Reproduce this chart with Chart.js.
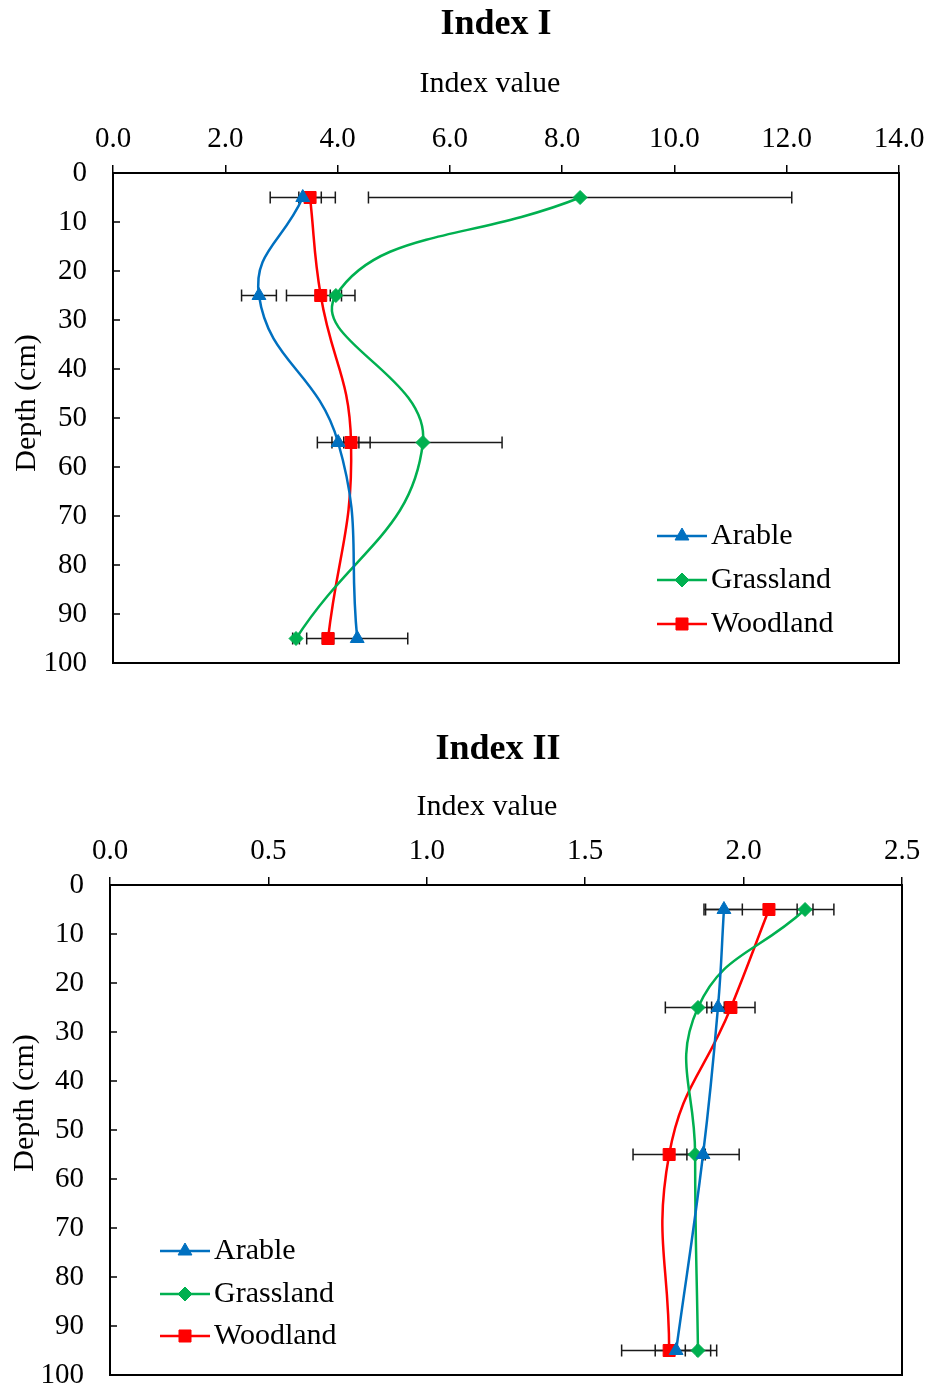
<!DOCTYPE html>
<html>
<head>
<meta charset="utf-8">
<script src="https://cdn.jsdelivr.net/npm/chart.js@4.4.0/dist/chart.umd.min.js"></script>
<style>
  html, body { margin: 0; padding: 0; background: #fff; overflow: hidden; width: 929px; height: 1386px; }
  canvas { position: absolute; left: 0; }
  #chart1 { top: 0; }
  #chart2 { top: 700px; }
</style>
</head>
<body>
<!-- les canvas dépassent un peu à droite/en bas : la page les coupe -->
<canvas id="chart1" width="939" height="713"></canvas>
<canvas id="chart2" width="942" height="725"></canvas>
<script>
// profondeurs (cm) et séries
const depths = [5, 25, 55, 95];
const seriesNames = ["Arable", "Grassland", "Woodland"];

// Index I
const idx1Arable    = [3.38, 2.60, 4.01, 4.35];
const idx1Grassland = [8.32, 3.97, 5.52, 3.26];
const idx1Woodland  = [3.51, 3.70, 4.24, 3.83];
const idx1ErrArable    = [0.58, 0.31, 0.37, 0.90];
const idx1ErrGrassland = [3.77, 0.10, 1.41, 0.06];
const idx1ErrWoodland  = [0.20, 0.61, 0.34, 0.10];
const idx1Ticks = [0, 2, 4, 6, 8, 10, 12, 14];

// Index II
const idx2Arable    = [1.938, 1.919, 1.872, 1.787];
const idx2Grassland = [2.194, 1.856, 1.847, 1.856];
const idx2Woodland  = [2.080, 1.960, 1.765, 1.765];
const idx2ErrArable    = [0.058, 0.020, 0.114, 0.066];
const idx2ErrGrassland = [0.025, 0.103, 0.026, 0.040];
const idx2ErrWoodland  = [0.205, 0.076, 0.114, 0.150];
const idx2Ticks = [0, 0.5, 1.0, 1.5, 2.0, 2.5];

const depthTicks = [0, 10, 20, 30, 40, 50, 60, 70, 80, 90, 100];

const couleurs = ["#0070C0", "#00B050", "#FF0000"];
const marqueurs = ["triangle", "rectRot", "rect"];
const tailles = [8, 7, 8.5];
const police = "'Liberation Serif', 'Times New Roman', serif";

function dessinerMarqueur(ctx, style, x, y, r, couleur) {
  ctx.save();
  ctx.fillStyle = couleur;
  ctx.strokeStyle = couleur;
  ctx.lineWidth = 1;
  if (Chart.helpers && Chart.helpers.drawPoint) {
    Chart.helpers.drawPoint(ctx, { pointStyle: style, radius: r, rotation: 0, borderWidth: 1 }, x, y);
  }
  ctx.restore();
}

// plugin : barres d'erreur, cadre, textes, légende
const extras = {
  id: "extras",
  beforeDatasetsDraw(chart) {
    const ctx = chart.ctx;
    const sx = chart.scales.x, sy = chart.scales.y;
    ctx.save();
    ctx.strokeStyle = "#1a1a1a";
    ctx.lineWidth = 1.5;
    chart.data.datasets.forEach(ds => {
      ds.data.forEach((p, j) => {
        const e = ds.errs[j];
        const x1 = sx.getPixelForValue(p.x - e);
        const x2 = sx.getPixelForValue(p.x + e);
        const y = sy.getPixelForValue(p.y);
        ctx.beginPath();
        ctx.moveTo(x1, y); ctx.lineTo(x2, y);
        ctx.moveTo(x1, y - 6); ctx.lineTo(x1, y + 6);
        ctx.moveTo(x2, y - 6); ctx.lineTo(x2, y + 6);
        ctx.stroke();
      });
    });
    ctx.restore();
  },
  afterDraw(chart) {
    const ctx = chart.ctx;
    const a = chart.chartArea;
    const o = chart.options.plugins.extras;
    const sy = chart.scales.y;
    ctx.save();
    // cadre
    ctx.strokeStyle = "#000";
    ctx.lineWidth = 2;
    ctx.strokeRect(a.left, a.top, a.right - a.left, a.bottom - a.top);
    // graduations vers l'intérieur
    ctx.lineWidth = 1.5;
    depthTicks.forEach(t => {
      const y = sy.getPixelForValue(t);
      ctx.beginPath();
      ctx.moveTo(a.left, y); ctx.lineTo(a.left + 7, y);
      ctx.stroke();
    });
    // titres
    ctx.fillStyle = "#000";
    ctx.textAlign = "center";
    ctx.textBaseline = "middle";
    ctx.font = "bold 36px " + police;
    ctx.fillText(o.titre, o.titreX, o.titreY);
    ctx.font = "30px " + police;
    ctx.fillText("Index value", o.axeX, o.axeY);
    ctx.save();
    ctx.translate(o.depthX, o.depthY);
    ctx.rotate(-Math.PI / 2);
    ctx.fillText("Depth (cm)", 0, 0);
    ctx.restore();
    // légende
    ctx.textAlign = "left";
    chart.data.datasets.forEach((ds, i) => {
      const y = o.legY[i];
      ctx.strokeStyle = couleurs[i];
      ctx.lineWidth = 2.5;
      ctx.beginPath();
      ctx.moveTo(o.legX, y); ctx.lineTo(o.legX + 50, y);
      ctx.stroke();
      dessinerMarqueur(ctx, marqueurs[i], o.legX + 25, y, tailles[i], couleurs[i]);
      ctx.fillStyle = "#000";
      ctx.font = "30px " + police;
      ctx.fillText(ds.label, o.legX + 54, y);
    });
    ctx.restore();
  }
};

function creerGraphique(id, cfg) {
  const datasets = seriesNames.map((nom, i) => ({
    label: nom,
    data: depths.map((d, j) => ({ x: cfg.valeurs[i][j], y: d })),
    errs: cfg.erreurs[i],
    borderColor: couleurs[i],
    backgroundColor: couleurs[i],
    borderWidth: 2.5,
    pointStyle: marqueurs[i],
    pointRadius: tailles[i],
    pointHoverRadius: tailles[i],
    pointBorderWidth: 1,
    tension: 0.45,
    fill: false
  }));

  return new Chart(document.getElementById(id), {
    type: "line",
    data: { datasets },
    options: {
      responsive: false,
      animation: false,
      devicePixelRatio: 1,
      events: [],
      layout: { padding: { top: cfg.padTop, right: 40, bottom: 50, left: 0 } },
      plugins: {
        legend: { display: false },
        tooltip: { enabled: false },
        extras: cfg.textes
      },
      scales: {
        x: {
          type: "linear",
          position: "top",
          min: 0,
          max: cfg.ticks[cfg.ticks.length - 1],
          afterBuildTicks: s => { s.ticks = cfg.ticks.map(v => ({ value: v })); },
          ticks: {
            callback: v => v.toFixed(1),
            font: { family: police, size: 29 },
            color: "#000",
            padding: 8,
            maxRotation: 0,
            autoSkip: false
          },
          grid: { drawOnChartArea: false, drawTicks: true, tickLength: 8, color: "#000", lineWidth: 1.5 },
          border: { display: true, color: "#000", width: 2 },
          afterFit: s => { s.height = 60; }
        },
        y: {
          type: "linear",
          reverse: true,
          min: 0,
          max: 100,
          afterBuildTicks: s => { s.ticks = depthTicks.map(v => ({ value: v })); },
          ticks: {
            font: { family: police, size: 29 },
            color: "#000",
            padding: 26,
            autoSkip: false
          },
          grid: { drawOnChartArea: false, drawTicks: false },
          border: { display: true, color: "#000", width: 2 },
          afterFit: s => { s.width = cfg.left; }
        }
      }
    },
    plugins: [extras]
  });
}

creerGraphique("chart1", {
  valeurs: [idx1Arable, idx1Grassland, idx1Woodland],
  erreurs: [idx1ErrArable, idx1ErrGrassland, idx1ErrWoodland],
  ticks: idx1Ticks,
  left: 113, padTop: 113,
  textes: { titre: "Index I", titreX: 496, titreY: 25, axeX: 490, axeY: 84,
            depthX: 27, depthY: 403, legX: 657, legY: [536, 580, 624] }
});

creerGraphique("chart2", {
  valeurs: [idx2Arable, idx2Grassland, idx2Woodland],
  erreurs: [idx2ErrArable, idx2ErrGrassland, idx2ErrWoodland],
  ticks: idx2Ticks,
  left: 110, padTop: 125,
  textes: { titre: "Index II", titreX: 498, titreY: 50, axeX: 487, axeY: 107,
            depthX: 25, depthY: 403, legX: 160, legY: [551, 594, 636] }
});
</script>
</body>
</html>
